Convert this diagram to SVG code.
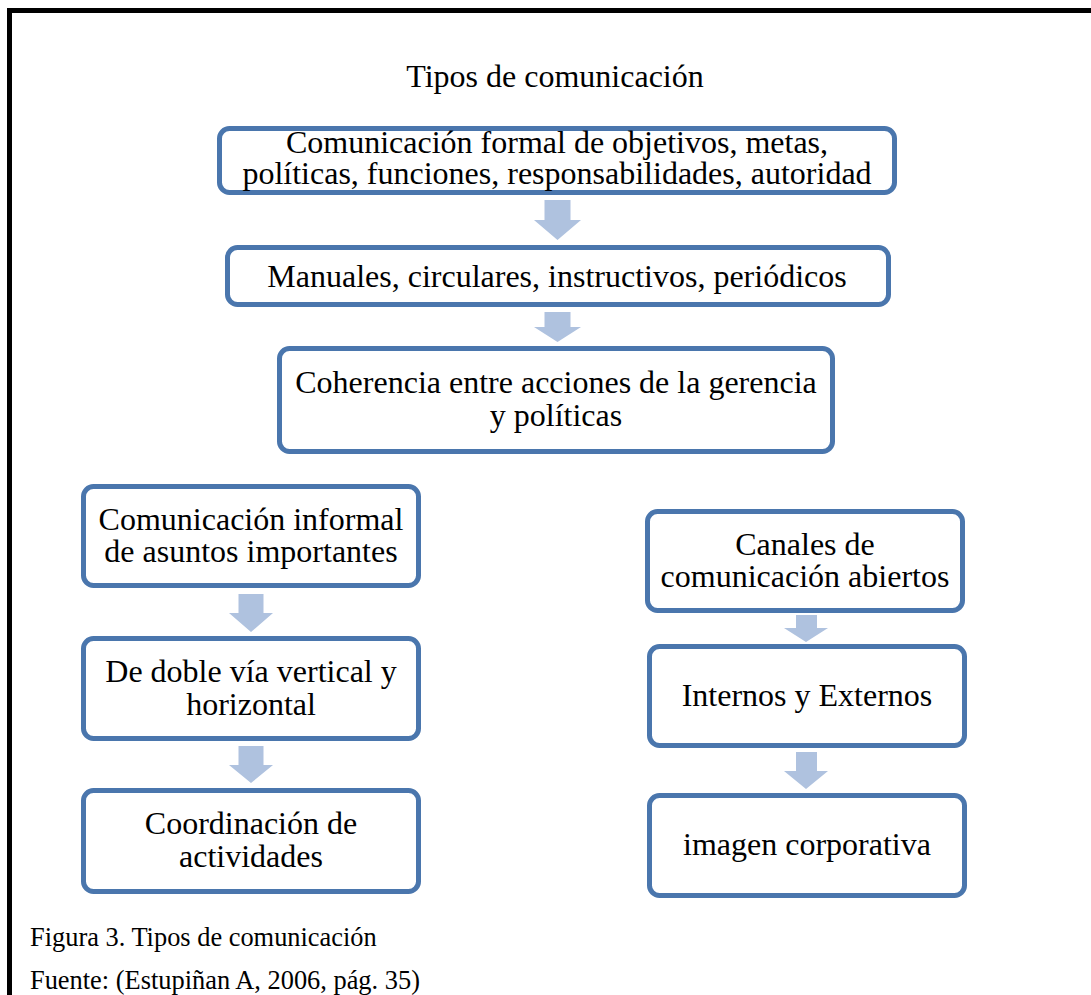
<svg xmlns="http://www.w3.org/2000/svg" width="1091" height="995" viewBox="0 0 1091 995">
<style>
.box{fill:#ffffff;stroke:#4A76AD;stroke-width:5}
.arr{fill:#AFC2DF;stroke:none}
text{font-family:"Liberation Serif","Times New Roman",serif;fill:#000}
.t{font-size:32px;text-anchor:middle}
.cap{font-size:26.4px}
</style>
<rect x="0" y="0" width="1091" height="995" fill="#ffffff"/>
<path d="M9.5,995 V10.5 H1091" fill="none" stroke="#000" stroke-width="5"/>
<text id="title" class="t" x="555" y="87">Tipos de comunicación</text>
<g id="connectors">
<path class="arr" d="M544.5,200 H570.5 V220 H581 L557.5,240 L534,220 H544.5 Z"/>
<path class="arr" d="M544.5,312 H570.5 V327 H581 L557.5,342 L534,327 H544.5 Z"/>
<path class="arr" d="M238.5,594 H263.5 V613 H273 L251,632 L229,613 H238.5 Z"/>
<path class="arr" d="M238.5,746 H263.5 V765 H273 L251,783 L229,765 H238.5 Z"/>
<path class="arr" d="M796,615 H817 V628 H828 L806,642 L784,628 H796 Z"/>
<path class="arr" d="M796,752 H817 V771 H828 L806,789 L784,771 H796 Z"/>
</g>
<g id="n1">
<rect class="box" x="219.5" y="128.5" width="675" height="64" rx="10"/>
<text class="t" x="557" y="153">Comunicación formal de objetivos, metas,<tspan x="557" dy="31">políticas, funciones, responsabilidades, autoridad</tspan></text>
</g>
<g id="n2">
<rect class="box" x="227.5" y="247.5" width="661" height="57" rx="10"/>
<text class="t" x="557" y="287">Manuales, circulares, instructivos, periódicos</text>
</g>
<g id="n3">
<rect class="box" x="279.5" y="348.5" width="553" height="103" rx="10"/>
<text class="t" x="556" y="393">Coherencia entre acciones de la gerencia<tspan x="556" dy="33">y políticas</tspan></text>
</g>
<g id="l1">
<rect class="box" x="83.5" y="486.5" width="335" height="99" rx="10"/>
<text class="t" x="251" y="530">Comunicación informal<tspan x="251" dy="32">de asuntos importantes</tspan></text>
</g>
<g id="l2">
<rect class="box" x="83.5" y="638.5" width="335" height="100" rx="10"/>
<text class="t" x="251" y="682">De doble vía vertical y<tspan x="251" dy="33">horizontal</tspan></text>
</g>
<g id="l3">
<rect class="box" x="83.5" y="790.5" width="335" height="101" rx="10"/>
<text class="t" x="251" y="834">Coordinación de<tspan x="251" dy="33">actividades</tspan></text>
</g>
<g id="r1">
<rect class="box" x="647.5" y="511.5" width="315" height="99" rx="10"/>
<text class="t" x="805" y="555">Canales de<tspan x="805" dy="32">comunicación abiertos</tspan></text>
</g>
<g id="r2">
<rect class="box" x="649.5" y="646.5" width="315" height="99" rx="10"/>
<text class="t" x="807" y="706">Internos y Externos</text>
</g>
<g id="r3">
<rect class="box" x="649.5" y="795.5" width="315" height="100" rx="10"/>
<text class="t" x="807" y="855">imagen corporativa</text>
</g>
<text id="cap1" class="cap" x="30" y="946">Figura 3. Tipos de comunicación</text>
<text id="cap2" class="cap" x="30" y="989">Fuente: (Estupiñan A, 2006, pág. 35)</text>
</svg>
